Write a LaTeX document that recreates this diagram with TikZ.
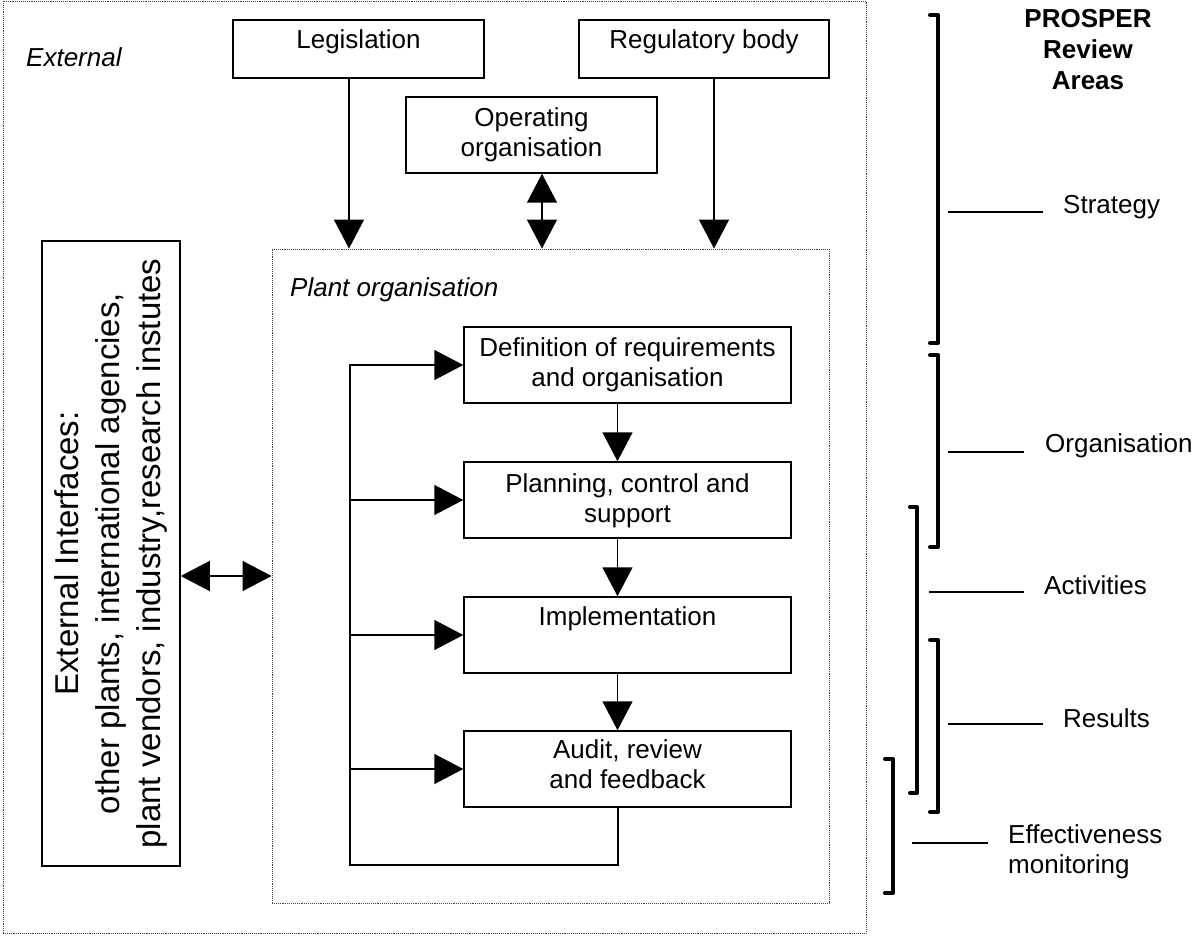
\documentclass[tikz,border=0pt]{standalone}
\usepackage{fontspec}
\setmainfont{Liberation Sans}
\usepackage{tikz}
\usetikzlibrary{arrows.meta,calc,positioning}
\newcommand{\boxfont}{\fontsize{26}{30}\selectfont}
\newcommand{\extfont}{\fontsize{33}{41}\selectfont}

\begin{document}
\begin{tikzpicture}[x=1pt,y=-1pt,xscale=1,
  box/.style={draw,line width=1.5pt,inner sep=0pt},
  frame/.style={draw,densely dotted,line width=0.9pt,black!75,inner sep=0pt},
  btext/.style={font=\boxfont,align=center,inner sep=0pt},
  arr/.style={line width=1.5pt,-{Triangle[length=29pt,width=30pt]}},
  dblarr/.style={line width=1.5pt,{Triangle[length=29pt,width=30pt]}-{Triangle[length=29pt,width=30pt]}},
  brace/.style={line width=4pt,line cap=round,line join=round},
  tick/.style={line width=1.4pt},
  area/.style={font=\boxfont,anchor=west,align=left,inner sep=0pt}]
\useasboundingbox (0,0) rectangle (1195,944);

%Shape: Rectangle (outer frame)
\node (outer) [frame, minimum width=863, minimum height=932] at (434.5,467) {};
%Shape: Rectangle (plant frame)
\node (plant) [frame, minimum width=557, minimum height=654] at (550.5,576) {};

% Text Node
\node (extlbl) [font=\boxfont\itshape, anchor=base west, inner sep=0pt] at (26,67) {External};
% Text Node
\node (plantlbl) [font=\boxfont\itshape, anchor=base west, inner sep=0pt] at (290,297) {Plant organisation};

%Shape: Rectangle
\node (leg) [box, minimum width=251, minimum height=58] at (358.5,49) {};
\node (legt) [btext, below=10pt of leg.north] {Legislation};
%Shape: Rectangle
\node (reg) [box, minimum width=250, minimum height=58] at (704,49) {};
\node (regt) [btext, below=10pt of reg.north] {Regulatory body};
%Shape: Rectangle
\node (opr) [box, minimum width=251, minimum height=76] at (531.5,135) {};
\node (oprt) [btext, below=11pt of opr.north] {Operating\\organisation};

%Shape: Rectangle
\node (def) [box, minimum width=327, minimum height=76] at (627.5,365) {};
\node (deft) [btext, below=11pt of def.north] {Definition of requirements\\and organisation};
%Shape: Rectangle
\node (pla) [box, minimum width=327, minimum height=76] at (627.5,500) {};
\node (plat) [btext, below=12pt of pla.north] {Planning, control and\\support};
%Shape: Rectangle
\node (imp) [box, minimum width=327, minimum height=76] at (627.5,635) {};
\node (impt) [btext, below=10pt of imp.north] {Implementation};
%Shape: Rectangle
\node (aud) [box, minimum width=327, minimum height=76] at (627.5,769) {};
\node (audt) [btext, below=9pt of aud.north] {Audit, review\\and feedback};

%Shape: Rectangle (rotated text)
\node (ext) [box, rotate=90, minimum width=625, minimum height=138, align=center, font=\extfont] at (111,553.5) {External Interfaces:\\other plants, international agencies,\\plant vendors, industry,research instutes};

%Straight Lines
\draw [arr] ($(leg.south)+(-9.5,0)$) -- ($(leg.south |- plant.north)+(-9.5,0)$);
\draw [arr] ($(reg.south)+(10,0)$) -- ($(reg.south |- plant.north)+(10,0)$);
\draw [dblarr] ($(opr.south)+(10.5,0)$) -- ($(opr.south |- plant.north)+(10.5,0)$);
\draw [dblarr] (ext.south |- plant.west) -- (plant.west);

%Straight Lines
\draw [arr] ($(def.south)+(-10,0)$) -- ($(pla.north)+(-10,0)$);
\draw [arr] ($(pla.south)+(-10,0)$) -- ($(imp.north)+(-10,0)$);
\draw [arr] ($(imp.south)+(-10,0)$) -- ($(aud.north)+(-10,0)$);

%Feedback loop
\coordinate (loop) at (350,865);
\draw [arr] ($(aud.south)+(-9.5,0)$) |- (loop) |- (def.west);
\draw [arr] (loop |- pla.west) -- (pla.west);
\draw [arr] (loop |- imp.west) -- (imp.west);
\draw [arr] (loop |- aud.west) -- (aud.west);

% Text Node
\node (hdr) [font=\fontsize{26}{31}\selectfont\bfseries, align=center, anchor=north, inner sep=0pt] at (1088,9) {PROSPER\\Review\\Areas};

%Brackets
\draw [brace] (930,15) -- (938,15) -- (938,343) -- (930,343);
\draw [brace] (930,355) -- (938,355) -- (938,547) -- (930,547);
\draw [brace] (910,507) -- (917,507) -- (917,793) -- (910,793);
\draw [brace] (930,640) -- (938,640) -- (938,812) -- (930,812);
\draw [brace] (885,759) -- (893,759) -- (893,893) -- (885,893);

% Text Node
\node (strat) [area] at (1063,207) {Strategy};
\draw [tick] (948,212) -- (1043,212);
% Text Node
\node (orga) [area] at (1045,446) {Organisation};
\draw [tick] (948,452) -- (1024,452);
% Text Node
\node (acts) [area] at (1044,585) {Activities};
\draw [tick] (929,592) -- (1024,592);
% Text Node
\node (res) [area] at (1063,718) {Results};
\draw [tick] (948,724) -- (1043,724);
% Text Node
\node (eff) [area] at (1008,852) {Effectiveness\\monitoring};
\draw [tick] (912,843) -- (988,843);

\end{tikzpicture}
\end{document}
